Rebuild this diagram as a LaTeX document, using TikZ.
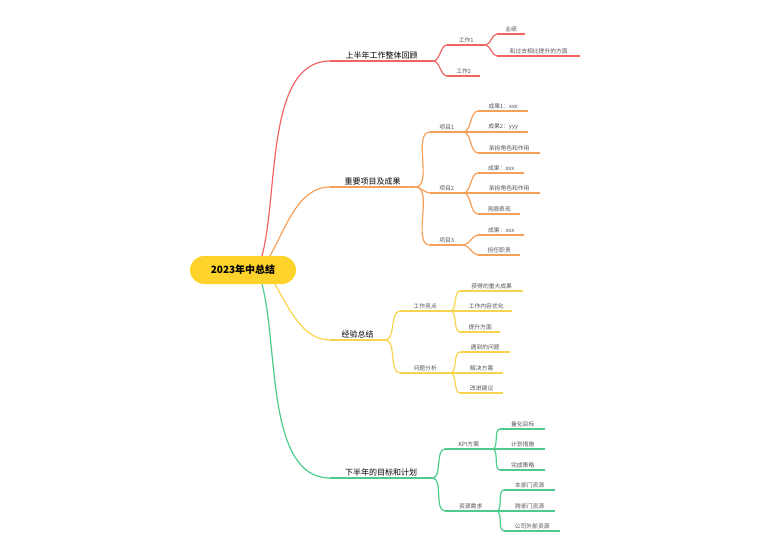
\documentclass[tikz,border=0pt]{standalone}
\usepackage{fontspec}
\setmainfont{Noto Sans CJK SC}
\usetikzlibrary{calc}
\definecolor{cred}{HTML}{F06464}
\definecolor{corange}{HTML}{F5A05A}
\definecolor{cyellow}{HTML}{F8D44C}
\definecolor{cgreen}{HTML}{4DCB8C}
\definecolor{croot}{HTML}{FDD22A}
\definecolor{ctext}{HTML}{555555}

\tikzset{
  topic/.style={anchor=south west, inner xsep=0pt, inner ysep=2pt,
                font=\fontsize{8}{9}\selectfont, text=black},
  sub/.style={anchor=south west, inner xsep=0pt, inner ysep=2pt,
              font=\fontsize{5.8}{7}\selectfont, text=ctext},
  leaf/.style={sub},
  link/.style={line width=1.2pt, out=0, in=180, looseness=0.8},
}
% underline of a node
\newcommand{\ul}[2]{\draw[#1, line width=1.2pt] (#2.south west) -- (#2.south east);}
% link from parent to child
\newcommand{\lk}[3]{\draw[link, #1] (#2.south east) to (#3.south west);}

\begin{document}
\begin{tikzpicture}[x=1pt, y=-1pt]
\useasboundingbox (0,0) rectangle (771,552);

% root
\node[fill=croot, rounded corners=14pt, minimum width=106pt, minimum height=28pt,
      font=\fontsize{10}{12}\selectfont\bfseries] (root) at (243,270) {2023年中总结};

% main topics
\node[topic, minimum width=103pt] (t1) at (330,61)  {上半年工作整体回顾};
\node[topic, minimum width=85pt]  (t2) at (330,187) {重要项目及成果};
\node[topic, minimum width=55pt]  (t3) at (330,340) {经验总结};
\node[topic, minimum width=102pt] (t4) at (330,478) {下半年的目标和计划};

\draw[cred, line width=1.2pt] ($(root.north)+(19,0)$) to[out=75, in=180, looseness=0.8] (t1.south west);
\draw[corange, line width=1.2pt] ($(root.north)+(27,0)$) to[out=60, in=180, looseness=0.9] (t2.south west);
\draw[cyellow, line width=1.2pt] ($(root.south)+(32,0)$) to[out=-60, in=180, looseness=0.9] (t3.south west);
\draw[cgreen, line width=1.2pt] ($(root.south)+(19,0)$) to[out=-75, in=180, looseness=0.8] (t4.south west);
\ul{cred}{t1} \ul{corange}{t2} \ul{cyellow}{t3} \ul{cgreen}{t4}

% branch 1
\node[sub, minimum width=38pt] (w1) at (447,45) {工作1};
\node[sub, minimum width=33pt] (w2) at (447,76) {工作2};
\node[leaf, minimum width=28pt] (w1a) at (497,34) {业绩};
\node[leaf, minimum width=83pt] (w1b) at (497,56) {和过去相比提升的方面};
\foreach \n in {w1,w2,w1a,w1b} {\ul{cred}{\n}}
\lk{cred}{t1}{w1} \lk{cred}{t1}{w2}
\lk{cred}{w1}{w1a} \lk{cred}{w1}{w1b}

% branch 2
\node[sub, minimum width=33pt] (p1) at (430,132) {项目1};
\node[sub, minimum width=33pt] (p2) at (430,193) {项目2};
\node[sub, minimum width=33pt] (p3) at (430,245) {项目3};
\node[leaf, minimum width=50pt] (p1a) at (478,111) {成果1：xxx};
\node[leaf, minimum width=50pt] (p1b) at (478,132) {成果2：yyy};
\node[leaf, minimum width=62pt] (p1c) at (478,153) {承担角色和作用};
\node[leaf, minimum width=46pt] (p2a) at (478,173) {成果：xxx};
\node[leaf, minimum width=62pt] (p2b) at (478,193) {承担角色和作用};
\node[leaf, minimum width=42pt] (p2c) at (478,214) {亮眼表现};
\node[leaf, minimum width=46pt] (p3a) at (478,235) {成果：xxx};
\node[leaf, minimum width=42pt] (p3b) at (478,255) {担任职责};
\foreach \n in {p1,p2,p3,p1a,p1b,p1c,p2a,p2b,p2c,p3a,p3b} {\ul{corange}{\n}}
\lk{corange}{t2}{p1} \lk{corange}{t2}{p2} \lk{corange}{t2}{p3}
\lk{corange}{p1}{p1a} \lk{corange}{p1}{p1b} \lk{corange}{p1}{p1c}
\lk{corange}{p2}{p2a} \lk{corange}{p2}{p2b} \lk{corange}{p2}{p2c}
\lk{corange}{p3}{p3a} \lk{corange}{p3}{p3b}

% branch 3
\node[sub, minimum width=50pt] (e1) at (400,311) {工作亮点};
\node[sub, minimum width=50pt] (e2) at (400,373) {问题分析};
\node[leaf, minimum width=63pt] (e1a) at (460,291) {获得的重大成果};
\node[leaf, minimum width=52pt] (e1b) at (460,311) {工作内容优化};
\node[leaf, minimum width=40pt] (e1c) at (460,332) {提升方面};
\node[leaf, minimum width=50pt] (e2a) at (460,352) {遇到的问题};
\node[leaf, minimum width=43pt] (e2b) at (460,373) {解决方案};
\node[leaf, minimum width=43pt] (e2c) at (460,393) {改进建议};
\foreach \n in {e1,e2,e1a,e1b,e1c,e2a,e2b,e2c} {\ul{cyellow}{\n}}
\lk{cyellow}{t3}{e1} \lk{cyellow}{t3}{e2}
\lk{cyellow}{e1}{e1a} \lk{cyellow}{e1}{e1b} \lk{cyellow}{e1}{e1c}
\lk{cyellow}{e2}{e2a} \lk{cyellow}{e2}{e2b} \lk{cyellow}{e2}{e2c}

% branch 4
\node[sub, minimum width=47pt] (g1) at (445,449) {KPI方案};
\node[sub, minimum width=51pt] (g2) at (445,511) {资源需求};
\node[leaf, minimum width=45pt] (g1a) at (500,429) {量化目标};
\node[leaf, minimum width=45pt] (g1b) at (500,449) {计划措施};
\node[leaf, minimum width=45pt] (g1c) at (500,470) {完成策略};
\node[leaf, minimum width=51pt] (g2a) at (504,490) {本部门资源};
\node[leaf, minimum width=51pt] (g2b) at (504,511) {跨部门资源};
\node[leaf, minimum width=56pt] (g2c) at (504,531) {公司外部资源};
\foreach \n in {g1,g2,g1a,g1b,g1c,g2a,g2b,g2c} {\ul{cgreen}{\n}}
\lk{cgreen}{t4}{g1} \lk{cgreen}{t4}{g2}
\lk{cgreen}{g1}{g1a} \lk{cgreen}{g1}{g1b} \lk{cgreen}{g1}{g1c}
\lk{cgreen}{g2}{g2a} \lk{cgreen}{g2}{g2b} \lk{cgreen}{g2}{g2c}
\end{tikzpicture}
\end{document}
